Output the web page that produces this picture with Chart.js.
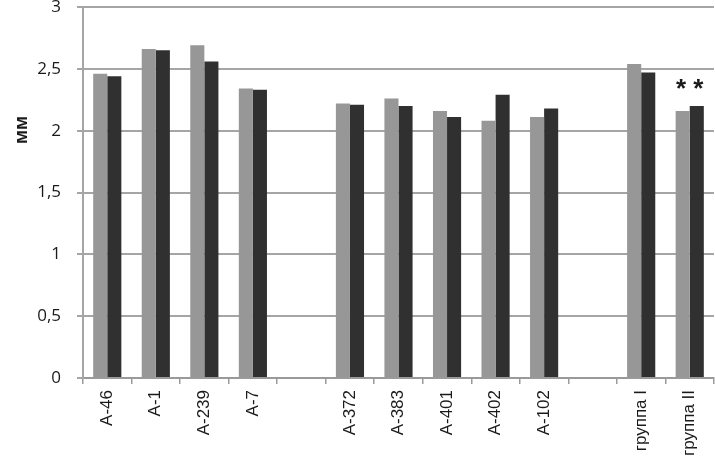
<!DOCTYPE html>
<html>
<head>
<meta charset="utf-8">
<script src="https://cdn.jsdelivr.net/npm/chart.js@4/dist/chart.umd.min.js"></script>
<style>
  html, body { margin: 0; padding: 0; background: #fff; }
  #wrap { width: 715px; height: 464px; }
</style>
</head>
<body>
<div id="wrap"><canvas id="thicknessChart"></canvas></div>
<script>
const categories = ["A-46", "A-1", "A-239", "A-7", "", "A-372", "A-383", "A-401", "A-402", "A-102", "", "группа I", "группа II"];
const lightValues = [2.46, 2.66, 2.69, 2.34, null, 2.22, 2.26, 2.16, 2.08, 2.11, null, 2.54, 2.16];
const darkValues = [2.44, 2.65, 2.56, 2.33, null, 2.21, 2.20, 2.11, 2.29, 2.18, null, 2.47, 2.20];
const yTicks = [0, 0.5, 1, 1.5, 2, 2.5, 3];
const axisTitle = "мм";
const markText = "* *";
const markCategory = "группа II";
const markValue = 2.33;

// draws the y title and the significance mark
const extrasPlugin = {
    id: "extras",
    afterDraw(chart) {
        const ctx = chart.ctx;
        const { x, y } = chart.scales;
        ctx.save();
        ctx.fillStyle = "#1a1a1a";
        ctx.font = "bold 26px 'Liberation Sans'";
        ctx.textAlign = "center";
        ctx.textBaseline = "middle";
        const idx = categories.indexOf(markCategory);
        ctx.fillText(markText, x.getPixelForValue(idx), y.getPixelForValue(markValue));

        ctx.font = "bold 19px 'Liberation Sans'";
        ctx.translate(22, 130);
        ctx.rotate(-Math.PI / 2);
        ctx.fillText(axisTitle, 0, 0);
        ctx.restore();
    }
};

const config = {
    type: "bar",
    data: {
        labels: categories,
        datasets: [
            { data: lightValues, backgroundColor: "#979797" },
            { data: darkValues, backgroundColor: "#303030" }
        ]
    },
    options: {
        responsive: true,
        maintainAspectRatio: false,
        animation: false,
        layout: { padding: { top: 7, right: 1, left: 0, bottom: 0 } },
        plugins: { legend: { display: false }, tooltip: { enabled: false } },
        datasets: { bar: { categoryPercentage: 0.58, barPercentage: 1.0 } },
        scales: {
            x: {
                grid: { drawOnChartArea: false, color: "#9a9a9a", lineWidth: 1.5, tickLength: 6 },
                border: { color: "#9a9a9a", width: 2 },
                ticks: {
                    color: "#1a1a1a",
                    font: { family: "'Liberation Sans'", size: 17 },
                    maxRotation: 90, minRotation: 90,
                    padding: 6
                },
                afterFit(scale) {
                    scale.height = 86;
                    scale.paddingLeft = 0;
                    scale.paddingRight = 0;
                }
            },
            y: {
                min: 0, max: 3,
                afterBuildTicks(scale) { scale.ticks = yTicks.map(v => ({ value: v })); },
                grid: { color: "#a5a5a5", lineWidth: 2, tickLength: 6 },
                border: { color: "#a5a5a5", width: 2 },
                ticks: {
                    color: "#1a1a1a",
                    font: { family: "'Open Sans'", size: 17 },
                    padding: 16,
                    callback: v => String(v).replace(".", ",")
                },
                afterFit(scale) {
                    scale.width = 83;
                    scale.paddingTop = 0;
                    scale.paddingBottom = 0;
                }
            }
        }
    },
    plugins: [extrasPlugin]
};

new Chart(document.getElementById("thicknessChart"), config);
</script>
</body>
</html>
